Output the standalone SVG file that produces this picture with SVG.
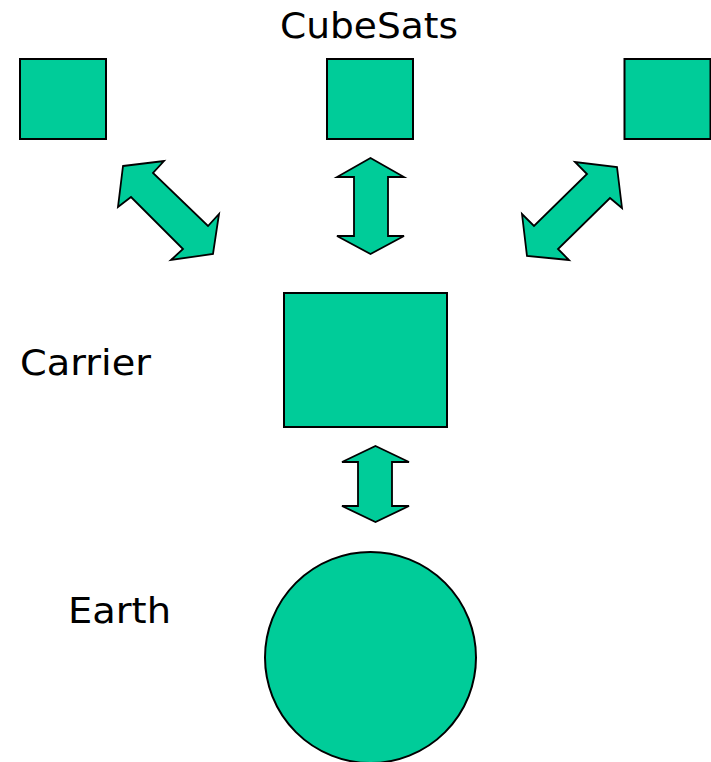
<svg xmlns="http://www.w3.org/2000/svg" width="711" height="762" viewBox="0 0 711 762">
<style>
.shape{fill:#00CC99;stroke:#000;stroke-width:2;stroke-linejoin:miter}
.arrow{fill:#00CC99;stroke:#000;stroke-width:1.8;stroke-linejoin:miter}
.lbl{font-family:"DejaVu Sans",Verdana,sans-serif;font-size:36px;fill:#000}
</style>
<rect width="711" height="762" fill="#fff"/>
<g id="label-cubesats"><text class="lbl" x="280" y="38" textLength="178" lengthAdjust="spacingAndGlyphs">CubeSats</text></g>
<g id="label-carrier"><text class="lbl" x="20" y="375" textLength="131" lengthAdjust="spacingAndGlyphs">Carrier</text></g>
<g id="label-earth"><text class="lbl" x="68" y="623" textLength="103" lengthAdjust="spacingAndGlyphs">Earth</text></g>
<g id="cubesat-left"><rect class="shape" x="20" y="59" width="86" height="80"/></g>
<g id="cubesat-middle"><rect class="shape" x="327" y="59" width="86" height="80"/></g>
<g id="cubesat-right"><rect class="shape" x="624.5" y="59" width="86" height="80"/></g>
<g id="carrier"><rect class="shape" x="284" y="293" width="163" height="134"/></g>
<g id="earth"><circle class="shape" cx="370.5" cy="657.5" r="105.5" stroke-width="1.8"/></g>
<g id="connectors">
<polygon class="arrow" points="123,166 164,161 153,173 208,226 219,214 213,254 171,260 183,249 131,197 118,207"/>
<polygon class="arrow" points="370.5,158 404,177 388,177 388,236 404,236 370.5,254 337,236 354,236 354,177 337,177"/>
<polygon class="arrow" points="617,167 622,208 610,198 558,249 569,260 527,256 522,214 534,226 587,174 575,162"/>
<polygon class="arrow" points="375.5,446 409,462 392,462 392,506 409,506 375.5,522 342,506 358,506 358,462 342,462"/>
</g>
</svg>
